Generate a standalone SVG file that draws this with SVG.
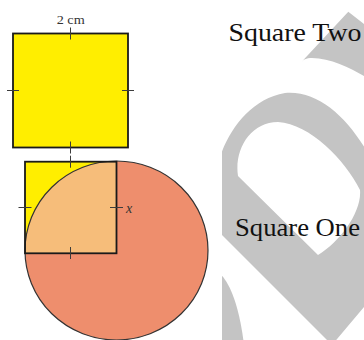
<svg xmlns="http://www.w3.org/2000/svg" width="364" height="340" viewBox="0 0 364 340">
  <style>
    .wm { fill: #c4c4c4; }
    .tick { stroke: #3c3c3c; stroke-width: 1; fill: none; }
    .sq { stroke: #1a1a1a; stroke-width: 1.8; }
    .lbl { font-family: "Liberation Serif", "Times New Roman", serif; fill: #111; }
    .small { font-family: "Liberation Serif", "Times New Roman", serif; fill: #333; }
  </style>
  <defs>
    <clipPath id="wmclip"><rect x="222" y="0" width="142" height="340"/></clipPath>
    <clipPath id="sq1clip"><rect x="25" y="161.7" width="91.5" height="91.6"/></clipPath>
  </defs>
  <rect width="364" height="340" fill="#ffffff"/>

  <g id="watermark" clip-path="url(#wmclip)">
    <path class="wm" fill-rule="evenodd" d="M 332,345 L 215,228 L 215,175 C 222,140 245,100 285,93 C 320,90 350,120 372,160 C 395,205 390,270 364,307 L 332,345 Z M 238,176 C 234,150 250,122 278,122 C 310,124 345,160 360,190 C 362,212 340,242 318,255 Z"/>
    <path class="wm" d="M 301.7,61.7 L 348.3,11.7 L 364,24 L 364,76 C 350,68 330,58 312,58 C 306,58 303,60 301.7,61.7 Z"/>
    <path class="wm" d="M 215,270 C 225,275 238,295 244,345 L 215,345 Z"/>
  </g>

  <g id="square-two">
    <rect class="sq" x="13" y="33.5" width="115" height="114" fill="#ffee00"/>
  </g>

  <g id="square-one">
    <rect x="25" y="161.7" width="91.5" height="91.6" fill="#ffee00"/>
    <ellipse cx="116.5" cy="250.5" rx="91.5" ry="89.5" fill="#ee8e6d"/>
    <ellipse cx="116.5" cy="250.5" rx="91.5" ry="89.5" fill="#f6bd7a" clip-path="url(#sq1clip)"/>
    <ellipse cx="116.5" cy="250.5" rx="91.5" ry="89.5" fill="none" stroke="#333" stroke-width="1.2"/>
    <rect class="sq" x="25" y="161.7" width="91.5" height="91.6" fill="none"/>
  </g>

  <g id="ticks">
    <line class="tick" x1="70.5" y1="27.5" x2="70.5" y2="39.5"/>
    <line class="tick" x1="7" y1="90.5" x2="19" y2="90.5"/>
    <line class="tick" x1="122" y1="90.5" x2="134" y2="90.5"/>
    <line class="tick" x1="70.5" y1="141.5" x2="70.5" y2="153.5"/>
    <line class="tick" x1="70.5" y1="155.7" x2="70.5" y2="167.7"/>
    <line class="tick" x1="18.5" y1="207.5" x2="31.5" y2="207.5"/>
    <line class="tick" x1="110" y1="207.5" x2="123" y2="207.5"/>
    <line class="tick" x1="70.5" y1="247" x2="70.5" y2="259"/>
  </g>

  <g id="labels">
    <text class="small" x="56.7" y="24" font-size="13" textLength="28" lengthAdjust="spacingAndGlyphs">2 cm</text>
    <text class="small" x="126" y="212.5" font-size="14" font-style="italic">x</text>
    <text class="lbl" x="228.5" y="41" font-size="24.5" textLength="133" lengthAdjust="spacingAndGlyphs">Square Two</text>
    <text class="lbl" x="235" y="236" font-size="24.5" textLength="125" lengthAdjust="spacingAndGlyphs">Square One</text>
  </g>
</svg>
